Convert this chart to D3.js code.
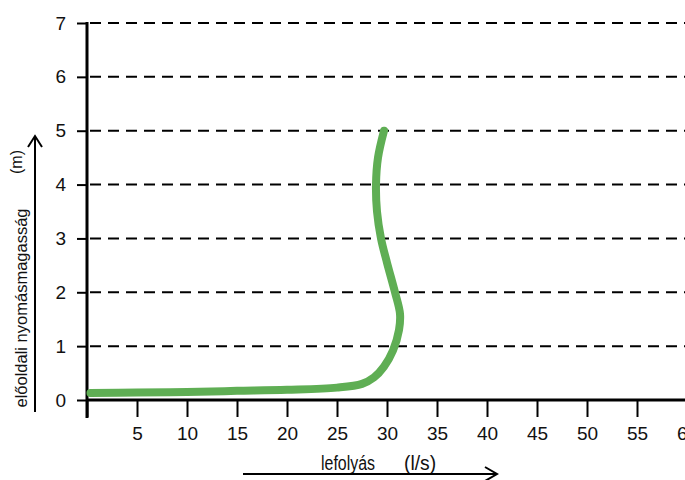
<!DOCTYPE html>
<html>
<head>
<meta charset="utf-8">
<script src="https://cdn.jsdelivr.net/npm/d3@7"></script>
<style>
  body { margin: 0; background: #fff; }
  text { font-family: "Liberation Sans", Arial, sans-serif; }
</style>
</head>
<body>
<div id="chart"></div>
<script>
// curve: [flow l/s, head m]
const curvePoints = [
  [0.35, 0.13], [5, 0.14], [10, 0.15], [15, 0.17], [20, 0.19], [25, 0.23],
  [27.5, 0.3], [28.7, 0.42], [29.7, 0.62], [30.6, 0.92], [31.2, 1.3],
  [31.3, 1.6], [30.8, 2.0], [30.0, 2.55], [29.4, 3.0], [29.0, 3.5],
  [28.9, 4.0], [29.1, 4.5], [29.7, 5.0]
];
const xTicks = [0, 5, 10, 15, 20, 25, 30, 35, 40, 45, 50, 55, 60];
const yTicks = [0, 1, 2, 3, 4, 5, 6, 7];
const xLabel = "lefolyás";
const xUnit = "(l/s)";
const yLabel = "előoldali nyomásmagasság";
const yUnit = "(m)";

const width = 685, height = 480;
const svg = d3.select("#chart").append("svg")
  .attr("width", width)
  .attr("height", height);

const x = d3.scaleLinear().domain([0, 60]).range([87, 687]);
const y = d3.scaleLinear().domain([0, 7]).range([400, 23]);

// dashed grid
svg.append("g")
  .selectAll("line")
  .data(yTicks.filter(d => d > 0))
  .enter().append("line")
  .attr("x1", x(0) + 3)
  .attr("x2", width)
  .attr("y1", d => y(d))
  .attr("y2", d => y(d))
  .style("stroke", "#000")
  .style("stroke-width", 2)
  .style("stroke-dasharray", "11,7");

// x axis
const xAxis = svg.append("g")
  .attr("transform", `translate(0,${y(0)})`)
  .call(d3.axisBottom(x).tickValues(xTicks).tickSize(17).tickPadding(10)
    .tickFormat(d => d === 0 ? "" : d));
xAxis.select(".domain").remove();
xAxis.selectAll(".tick line").style("stroke", "#000").style("stroke-width", 2);
xAxis.selectAll(".tick text").style("font-size", "19px").style("fill", "#111");

// y axis
const yAxis = svg.append("g")
  .attr("transform", `translate(${x(0)},0)`)
  .call(d3.axisLeft(y).tickValues(yTicks).tickSize(10).tickPadding(11)
    .tickFormat(d3.format("d")));
yAxis.select(".domain").remove();
yAxis.selectAll(".tick line").style("stroke", "#000").style("stroke-width", 2);
yAxis.selectAll(".tick text").style("font-size", "19px").style("fill", "#111");

// axis lines
svg.append("line")
  .attr("x1", x(0)).attr("x2", x(0))
  .attr("y1", y(7) - 1).attr("y2", y(0) + 18)
  .style("stroke", "#000").style("stroke-width", 3);
svg.append("line")
  .attr("x1", x(0) - 1).attr("x2", width)
  .attr("y1", y(0)).attr("y2", y(0))
  .style("stroke", "#000").style("stroke-width", 3);

// green curve
const line = d3.line()
  .x(d => x(d[0]))
  .y(d => y(d[1]))
  .curve(d3.curveCatmullRom.alpha(0.5));

svg.append("path")
  .datum(curvePoints)
  .attr("d", line)
  .style("fill", "none")
  .style("stroke", "#5fae54")
  .style("stroke-width", 8)
  .style("stroke-linecap", "round");

// axis titles with arrows
svg.append("text")
  .attr("transform", "translate(321,470) scale(0.76,1)")
  .style("font-size", "21px")
  .style("fill", "#111")
  .text(xLabel);

svg.append("text")
  .attr("transform", "translate(404,470) scale(0.92,1)")
  .style("font-size", "21px")
  .style("fill", "#111")
  .text(xUnit);

svg.append("path")
  .attr("d", "M243,474 H497 M485,467 L497,474 L485,481")
  .style("fill", "none")
  .style("stroke", "#000")
  .style("stroke-width", 2);

svg.append("text")
  .attr("transform", "translate(27,308) rotate(-90)")
  .attr("text-anchor", "middle")
  .style("font-size", "16.5px")
  .style("fill", "#111")
  .text(yLabel);

svg.append("text")
  .attr("transform", "translate(22,162) rotate(-90)")
  .attr("text-anchor", "middle")
  .style("font-size", "16px")
  .style("fill", "#111")
  .text(yUnit);

svg.append("path")
  .attr("d", "M35,412 V136 M28,147 L35,136 L42,147")
  .style("fill", "none")
  .style("stroke", "#000")
  .style("stroke-width", 2);
</script>
</body>
</html>
